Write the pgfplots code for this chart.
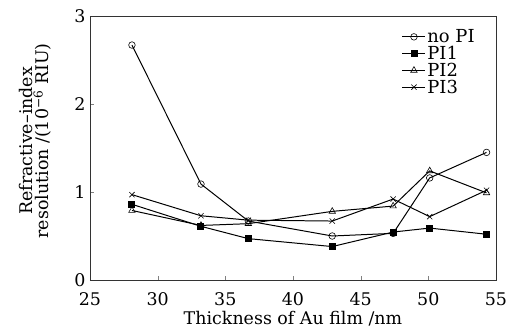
\documentclass[border=0pt]{standalone}
\usepackage{pgfplots}
\pgfplotsset{compat=1.18}
\usepackage{fontspec}
\setmainfont{DejaVu Serif}
\begin{document}
\begin{tikzpicture}
\begin{axis}[
  name=ax,
  scale only axis, width=406bp, height=264bp,
  xmin=25, xmax=55, ymin=0, ymax=3,
  xtick={25,30,...,55}, ytick={0,1,2,3},
  tick align=inside, xtick pos=bottom, ytick pos=left,
  major tick length=4bp,
  axis line style={line width=0.6pt, black!80},
  /pgf/number format/assume math mode=true,
  tick label style={font=\fontsize{17.5}{18}\selectfont},
  xticklabel style={anchor=base, yshift=-25bp},
  yticklabel style={xshift=-1bp},
  label style={font=\fontsize{17.5}{16}\selectfont},
  xlabel={Thickness of Au film /nm},
  xlabel style={at={(axis description cs:0.5,-0.170)}, anchor=base},
  ylabel={Refractive–index\\resolution /(10\textsuperscript{−6} RIU)},
  ylabel style={align=center, at={(axis description cs:-0.134,0.527)}, anchor=center},
  legend style={draw=none, fill=none, at={(axis description cs:0.768,0.955)}, anchor=north west,
    inner sep=0pt, font=\fontsize{18}{18}\selectfont, row sep=-1bp,
    nodes={inner sep=1.5bp}},
  legend cell align=left,
  legend image code/.code={
    \draw[mark repeat=2,mark phase=2,line width=0.9pt] plot coordinates {(0bp,0bp) (11.5bp,0bp) (23bp,0bp)};},
  every axis plot/.append style={black, line width=1pt},
]
\addplot[mark=o, mark size=3.3bp, mark options={fill=white, line width=0.6pt}] coordinates {
 (28.1,2.67) (33.2,1.09) (36.7,0.67) (42.9,0.50) (47.4,0.53) (50.1,1.16) (54.3,1.45)};
\addlegendentry{no PI}
\addplot[mark=square*, mark size=3bp] coordinates {
 (28.1,0.86) (33.2,0.61) (36.7,0.47) (42.9,0.38) (47.4,0.545) (50.1,0.59) (54.3,0.52)};
\addlegendentry{PI1}
\addplot[mark=triangle, mark size=3.7bp, mark options={fill=white, line width=0.6pt}] coordinates {
 (28.1,0.79) (33.2,0.62) (36.7,0.64) (42.9,0.78) (47.4,0.84) (50.1,1.24) (54.3,0.99)};
\addlegendentry{PI2}
\addplot[mark=x, mark size=3.7bp, mark options={line width=0.6pt}] coordinates {
 (28.1,0.97) (33.2,0.73) (36.7,0.68) (42.9,0.67) (47.4,0.92) (50.1,0.72) (54.3,1.02)};
\addlegendentry{PI3}
\end{axis}
\pgfresetboundingbox
\path[use as bounding box] (ax.south west) ++(-90bp,-52bp) rectangle ([shift={(13bp,16bp)}]ax.north east);
\end{tikzpicture}
\end{document}
